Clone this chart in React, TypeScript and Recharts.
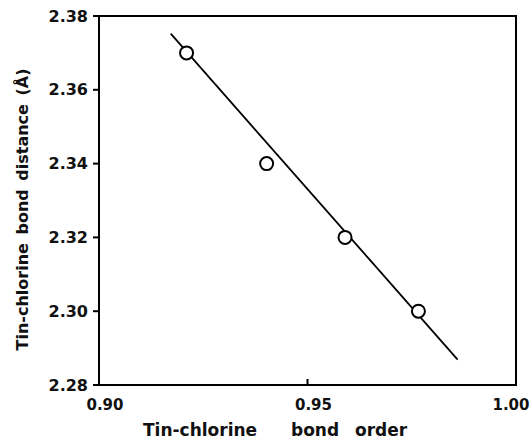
import React from 'react';
import { ScatterChart, Scatter, XAxis, YAxis, ReferenceArea, Label } from 'recharts';

// --- Data ---
const bondOrder = [0.921, 0.9402, 0.959, 0.9766];
const bondDistance = [2.37, 2.34, 2.32, 2.30];

// fitted straight line, read at its two ends
const fitOrder = [0.9172, 0.986];
const fitDistance = [2.3752, 2.2869];

const xTicks = [0.9, 0.95, 1.0];
const yTicks = [2.28, 2.3, 2.32, 2.34, 2.36, 2.38];

const points = bondOrder.map((x, i) => ({ x, y: bondDistance[i] }));
const fitLine = fitOrder.map((x, i) => ({ x, y: fitDistance[i] }));

const FONT = '"DejaVu Sans", sans-serif';
const INK = '#111';

const OpenCircle = (props: any) => (
  <circle cx={props.cx} cy={props.cy} r={6.5} fill="#fff" stroke="#000" strokeWidth={2} />
);

const NoShape = () => <g />;

const XTick = (props: any) => {
  const { x, y, payload } = props;
  // keep the last label inside the page
  const cx = Math.min(x + 6, 511);
  return (
    <g>
      <line x1={x} x2={x} y1={y} y2={y - 6} stroke="#000" strokeWidth={2} />
      <text x={cx} y={y + 25} textAnchor="middle" fontSize={15} fontWeight="bold" fontFamily={FONT} fill={INK}>
        {payload.value.toFixed(2)}
      </text>
    </g>
  );
};

const XLabel = (props: any) => {
  const vb = props.viewBox;
  const x0 = vb.x + 44;
  return (
    <text y={vb.y + 51} fontSize={17} fontWeight="bold" fontFamily={FONT} fill={INK}>
      <tspan x={x0}>Tin-chlorine</tspan>
      <tspan x={x0 + 148}>bond</tspan>
      <tspan x={x0 + 212}>order</tspan>
    </text>
  );
};

const YLabel = (props: any) => {
  const vb = props.viewBox;
  const cx = 22;
  const cy = vb.y + vb.height / 2 + 9;
  return (
    <text
      x={cx}
      y={cy}
      transform={`rotate(-90 ${cx} ${cy})`}
      textAnchor="middle"
      dominantBaseline="central"
      fontSize={16}
      fontWeight="bold"
      fontFamily={FONT}
      fill={INK}
      style={{ wordSpacing: 3 }}
    >
      Tin-chlorine bond distance (Å)
    </text>
  );
};

const App = () => {
  return (
    <div style={{ position: 'absolute', left: 0, top: 0, background: '#fff' }}>
      <ScatterChart width={531} height={442} margin={{ top: 16, right: 15, bottom: 0, left: 19 }}>
        <XAxis
          type="number"
          dataKey="x"
          domain={[0.9, 1.0]}
          ticks={xTicks}
          allowDataOverflow
          height={57}
          stroke="#000"
          strokeWidth={2}
          tickSize={0}
          tickMargin={0}
          tick={<XTick />}
        >
          <Label content={<XLabel />} />
        </XAxis>
        <YAxis
          type="number"
          dataKey="y"
          domain={[2.28, 2.38]}
          ticks={yTicks}
          allowDataOverflow
          width={80}
          stroke="#000"
          strokeWidth={2}
          tickSize={6}
          tickMargin={5}
          tick={{ fontSize: 16, fontWeight: 'bold', fontFamily: FONT, fill: INK }}
          tickFormatter={(v: number) => v.toFixed(2)}
        >
          <Label content={<YLabel />} />
        </YAxis>
        <ReferenceArea x1={0.9} x2={1.0} y1={2.28} y2={2.38} fill="none" stroke="#000" strokeWidth={2} />
        <Scatter
          data={fitLine}
          line={{ stroke: '#000', strokeWidth: 1.8 }}
          shape={<NoShape />}
          isAnimationActive={false}
        />
        <Scatter data={points} shape={<OpenCircle />} isAnimationActive={false} />
      </ScatterChart>
    </div>
  );
};

export default App;
